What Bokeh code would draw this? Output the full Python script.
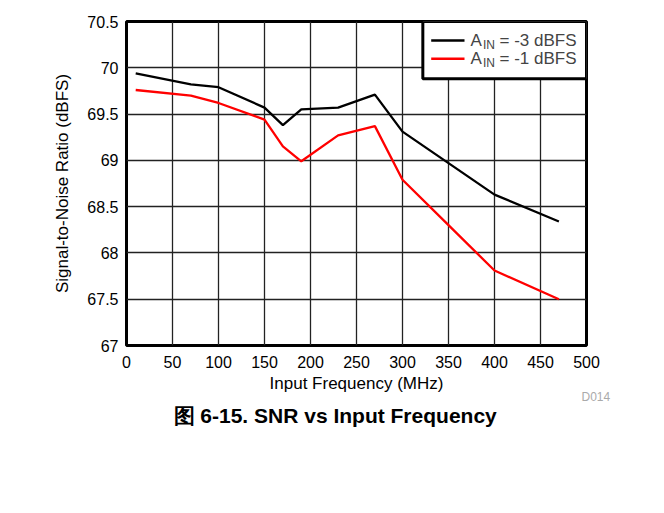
from bokeh.plotting import figure
from bokeh.models import FixedTicker, Range1d, BoxAnnotation, Label, Title
from bokeh.embed import file_html
from bokeh.resources import INLINE

# ---- data ----
freq_mhz = [10, 70, 100, 150, 170, 190, 230, 270, 300, 350, 400, 470]
snr_m3 = [69.94, 69.82, 69.79, 69.57, 69.38, 69.55, 69.57, 69.71, 69.31, 68.97, 68.63, 68.34]
snr_m1 = [69.76, 69.70, 69.62, 69.44, 69.15, 68.99, 69.27, 69.37, 68.79, 68.30, 67.81, 67.50]
x_ticks = [0, 50, 100, 150, 200, 250, 300, 350, 400, 450, 500]
y_ticks = [67, 67.5, 68, 68.5, 69, 69.5, 70, 70.5]
y_tick_labels = ["67", "67.5", "68", "68.5", "69", "69.5", "70", "70.5"]

FONT = "Liberation Sans"

p = figure(width=660, height=450, output_backend="svg", toolbar_location=None,
           x_range=Range1d(0, 500), y_range=Range1d(67, 70.5),
           min_border_left=126, min_border_right=74, min_border_top=21,
           min_border_bottom=105)

p.outline_line_color = "black"
p.outline_line_width = 3
p.background_fill_color = "white"
p.border_fill_color = "white"

for ax in (p.xaxis[0], p.yaxis[0]):
    ax.axis_line_color = None
    ax.major_tick_line_color = None
    ax.minor_tick_line_color = None
    ax.major_tick_in = 0
    ax.major_tick_out = 0
    ax.minor_tick_in = 0
    ax.minor_tick_out = 0
    ax.major_label_text_font = FONT
    ax.major_label_text_font_size = "16px"
    ax.major_label_text_color = "black"
    ax.axis_label_text_font = FONT
    ax.axis_label_text_font_size = "17px"
    ax.axis_label_text_font_style = "normal"
    ax.axis_label_text_color = "black"

p.xaxis.ticker = FixedTicker(ticks=x_ticks)
p.yaxis.ticker = FixedTicker(ticks=y_ticks)
p.yaxis.major_label_overrides = {t: l for t, l in zip(y_ticks, y_tick_labels)}
p.xaxis.axis_label = "Input Frequency (MHz)"
p.yaxis.axis_label = "Signal-to-Noise Ratio (dBFS)"
p.xaxis.major_label_standoff = 10
p.yaxis.major_label_standoff = 8
p.xaxis.axis_label_standoff = 3
p.yaxis.axis_label_standoff = 12

for g in (p.xgrid[0], p.ygrid[0]):
    g.grid_line_color = "#222222"
    g.grid_line_width = 1.3

p.line(freq_mhz, snr_m3, line_color="black", line_width=2.3)
p.line(freq_mhz, snr_m1, line_color="#ff0000", line_width=2.3)

# ---- legend (manual, for subscript) ----
box = BoxAnnotation(left=322.1, right=500, bottom=69.881, top=70.5,
                    fill_color="white", fill_alpha=1.0,
                    line_color="black", line_alpha=1.0, line_width=3)
p.add_layout(box)

leg_names = ["-3 dBFS", "-1 dBFS"]
leg_colors = ["black", "#ff0000"]
leg_y = [70.295, 70.097]
for name, col, yy in zip(leg_names, leg_colors, leg_y):
    p.segment(x0=[331.2], y0=[yy], x1=[367.4], y1=[yy], line_color=col,
              line_width=2.5, level="overlay")
    p.add_layout(Label(x=373.9, y=yy, text="A", text_font=FONT,
                       text_font_size="17px", text_baseline="middle",
                       text_align="left", level="overlay"))
    p.add_layout(Label(x=387.5, y=yy - 0.05, text="IN", text_font=FONT,
                       text_font_size="12px", text_baseline="middle",
                       text_align="left", level="overlay"))
    p.add_layout(Label(x=405.5, y=yy, text="= " + name, text_font=FONT,
                       text_font_size="17px", text_baseline="middle",
                       text_align="left", level="overlay"))

# ---- id and caption below the axis ----
p.add_layout(Title(text="D014", align="left", offset=455, standoff=-17,
                   text_font=FONT, text_font_size="12px",
                   text_font_style="normal", text_color="#aaaaaa"), "below")
p.add_layout(Title(text="图 6-15. SNR vs Input Frequency", align="left",
                   offset=47, standoff=13, text_font=FONT,
                   text_font_size="21px", text_font_style="bold",
                   text_color="black"), "below")

open("out.html", "w").write(file_html(p, INLINE))
